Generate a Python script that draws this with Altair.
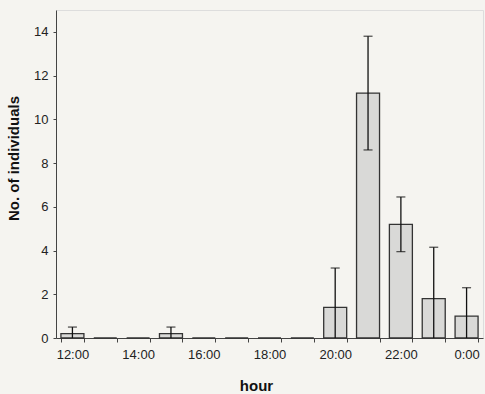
import altair as alt
import pandas as pd

hours = ["12:00", "13:00", "14:00", "15:00", "16:00", "17:00", "18:00",
         "19:00", "20:00", "21:00", "22:00", "23:00", "0:00"]
means = [0.2, 0, 0, 0.2, 0, 0, 0, 0, 1.4, 11.2, 5.2, 1.8, 1.0]
err_low = [0, None, None, 0, None, None, None, None, 0, 8.6, 3.95, 0, 0]
err_high = [0.5, None, None, 0.5, None, None, None, None, 3.2, 13.8, 6.45, 4.15, 2.3]

df = pd.DataFrame({"hour": hours, "mean": means, "lo": err_low, "hi": err_high})
err = df.dropna()
lowcaps = err[err["lo"] > 0]

FONT = "Liberation Sans"

xenc = alt.X("hour:N", sort=hours, scale=alt.Scale(paddingInner=0.3, paddingOuter=0.15),
             axis=alt.Axis(title="hour", titleFontWeight="bold", titleFontSize=15,
                           titleFont=FONT, titleX=200, titleY=40, titleColor="#111",
                           labelAngle=0, labelFont=FONT, labelFontSize=13,
                           labelColor="#222", tickBand="extent", tickSize=4,
                           tickColor="#444", domainColor="#444", labelPadding=6,
                           labelExpr="indexof(['12:00','14:00','16:00','18:00','20:00','22:00','0:00'], datum.label) >= 0 ? datum.label : ''",
                           grid=False))

bars = alt.Chart(df).mark_bar(fill="#d9d9d7", stroke="#333", strokeWidth=1.3).encode(
    x=xenc,
    y=alt.Y("mean:Q", scale=alt.Scale(domain=[0, 15], nice=False),
            axis=alt.Axis(title="No. of individuals", values=[0, 2, 4, 6, 8, 10, 12, 14],
                          titleFontWeight="bold", titleFontSize=15, titleFont=FONT,
                          titleColor="#111", titleX=-35, titleY=148,
                          labelFont=FONT, labelFontSize=13, labelColor="#222",
                          tickSize=3, tickColor="#444", domainColor="#444", grid=False,
                          labelPadding=5))
)

rules = alt.Chart(err).mark_rule(color="#111", strokeWidth=1.3).encode(
    x=alt.X("hour:N", sort=hours), y="lo:Q", y2="hi:Q")
capt = alt.Chart(err).mark_tick(color="#111", thickness=1.3, size=9, orient="horizontal").encode(
    x=alt.X("hour:N", sort=hours), y="hi:Q")
capb = alt.Chart(lowcaps).mark_tick(color="#111", thickness=1.3, size=9, orient="horizontal").encode(
    x=alt.X("hour:N", sort=hours), y="lo:Q")

chart = alt.layer(bars, rules, capt, capb).properties(
    width=427, height=328,
    autosize=alt.AutoSizeParams(type="none"),
    padding={"left": 56, "top": 10, "right": 2, "bottom": 56},
    background="#f5f4f0",
).configure_view(stroke="#ddd", strokeWidth=1)

chart.save("out.html", embed_options={"renderer": "svg", "actions": False})
